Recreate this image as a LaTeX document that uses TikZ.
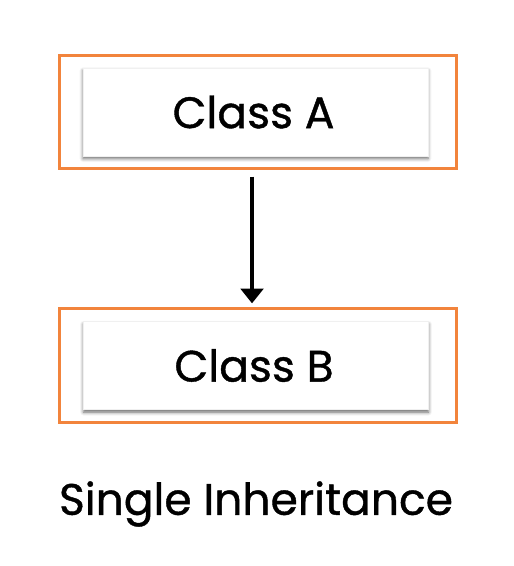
\documentclass[tikz,border=0pt]{standalone}
\usepackage{fontspec}
\setmainfont{Poppins}
\newfontfamily\classfont{Poppins}[FakeBold=0.9]
\usetikzlibrary{arrows.meta,shadows.blur}

\definecolor{boxorange}{RGB}{242,132,60}

\tikzset{
  outerbox/.style={draw=boxorange, line width=2.25pt, minimum width=298pt, minimum height=85pt, inner sep=0pt},
  classbox/.style={draw=black!6, fill=white, minimum width=258.75pt, minimum height=66pt, inner sep=0pt,
    blur shadow={shadow xshift=0pt, shadow yshift=-2pt, shadow blur radius=2.5pt, shadow opacity=60}},
  classtext/.style={font=\classfont\fontsize{33}{39}\selectfont},
}

\begin{document}
\begin{tikzpicture}[x=0.75pt,y=0.75pt,yscale=-1,xscale=1]
%set diagram left start at 0, and has height of 566
\useasboundingbox (0,0) rectangle (513,566);

% Frame Node
\node [outerbox] (frameA) at (257.75,111.75) {};
% Box Node
\node [classbox] (boxA) at (255.5,112) {};
% Text Node
\node [classtext, inner sep=0pt] (textA) at (253.5,112) {Class A};
% Frame Node
\node [outerbox] (frameB) at (257.75,365.5) {};
% Box Node
\node [classbox] (boxB) at (256,365.5) {};
% Text Node
\node [classtext, inner sep=0pt] (textB) at (254,365.5) {Class B};
% Text Node
\node [classtext, inner sep=0pt] (title) at (256,504) {Single Inheritance};
% Connection
\draw [line width=2.3pt, -{Triangle[width=17pt,length=11pt]}, shorten <=5pt, shorten >=3pt]
  ([xshift=-4.3pt]frameA.south) -- ([xshift=-4.3pt]frameB.north);

\end{tikzpicture}
\end{document}
